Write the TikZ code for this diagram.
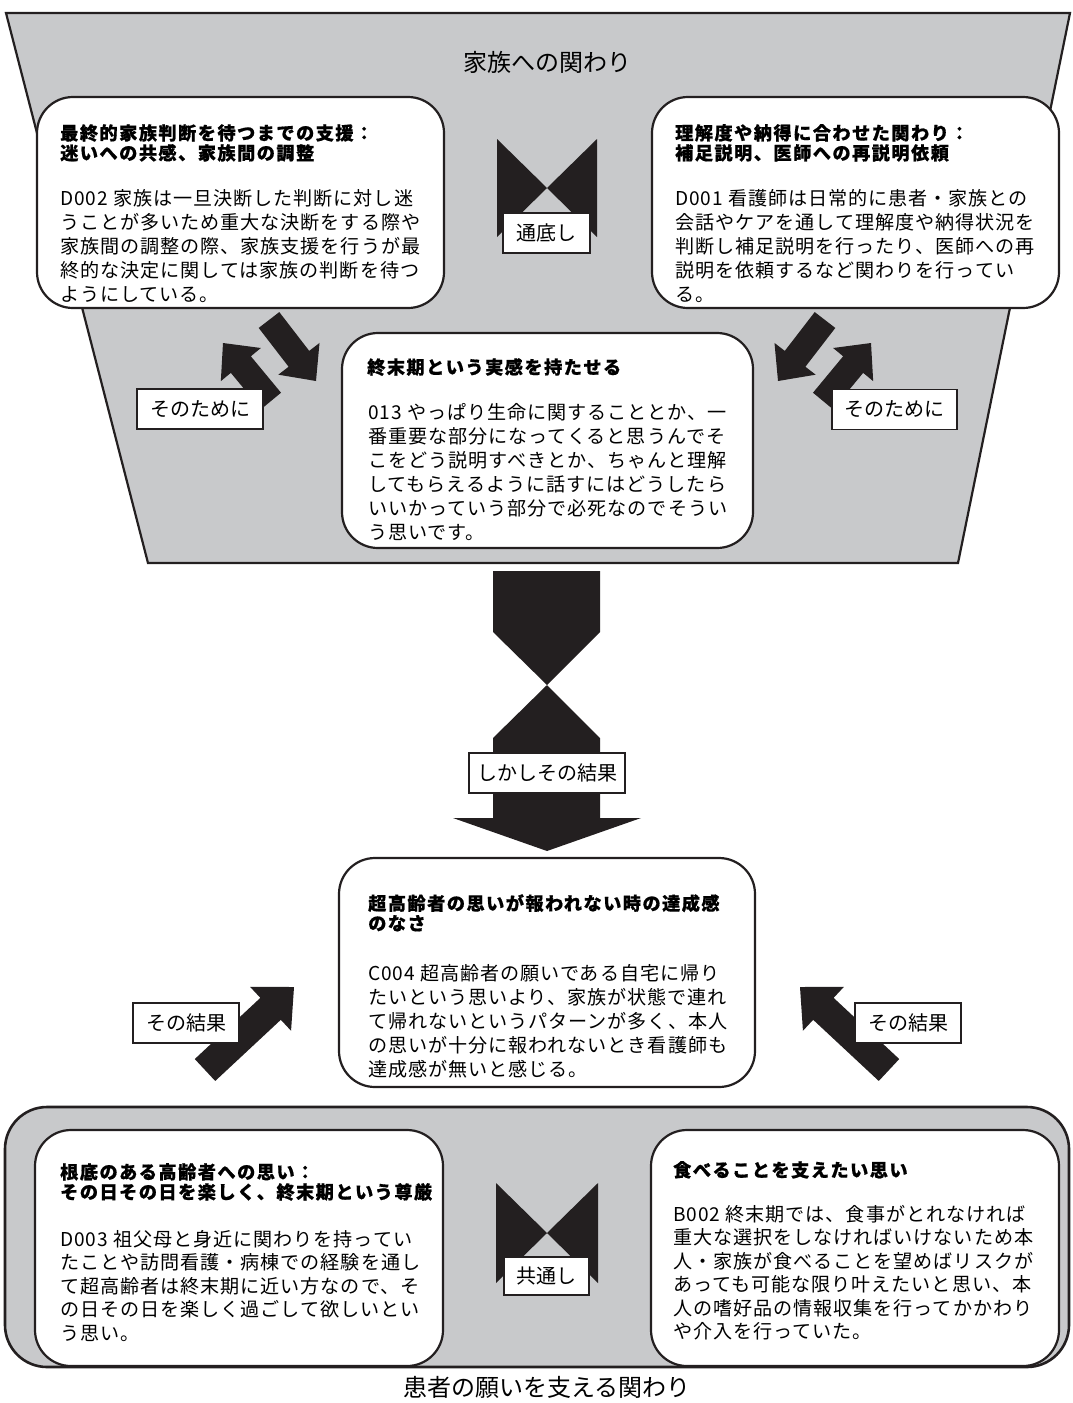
\documentclass[tikz,border=0pt]{standalone}
\usepackage{fontspec}
\setmainfont{Noto Sans CJK JP}
\newfontfamily\ttlfont{Noto Sans CJK JP}[LetterSpace=8, BoldFeatures={FakeBold=0.6}]
\newfontfamily\bdyfont{Noto Sans CJK JP}[LetterSpace=5]
\usetikzlibrary{calc}
\definecolor{fgray}{HTML}{C8C9CB}
\definecolor{ink}{HTML}{231F20}
% block arrow: #1 name, #2 tail, #3 tip, #4 shaft half width, #5 head half width, #6 head length
\newcommand{\blkarrow}[6]{%
  \coordinate (#1-h) at ($(#3)!#6!(#2)$);
  \fill[blk] ($(#2)!#4!90:(#3)$) -- ($(#1-h)!#4!-90:(#2)$) -- ($(#1-h)!#5!-90:(#2)$) -- (#3)
    -- ($(#1-h)!#5!90:(#2)$) -- ($(#1-h)!#4!90:(#2)$) -- ($(#2)!#4!-90:(#3)$) -- cycle;
}
\begin{document}
\begin{tikzpicture}[x=1pt,y=-1pt,
  blk/.style={fill=ink},
  funnel/.style={draw=ink, line width=2.2pt, fill=fgray, line join=miter},
  wbox/.style={draw=ink, line width=2.2pt, fill=white, rounded corners=36pt, inner sep=0pt},
  gbox/.style={draw=ink, line width=2.6pt, fill=fgray, rounded corners=42pt, inner sep=0pt},
  lbl/.style={draw=ink, line width=1.4pt, fill=white, minimum height=40pt, inner sep=0pt, font=\fontsize{20}{20}\selectfont},
  ttl/.style={anchor=north west, align=left, inner sep=0pt, font=\ttlfont\fontsize{18.2}{20}\selectfont\bfseries},
  bdy/.style={anchor=north west, align=left, inner sep=0pt, font=\bdyfont\fontsize{19.1}{24}\selectfont},
  bdyb/.style={bdy, font=\bdyfont\fontsize{19.1}{23.5}\selectfont},
  head/.style={font=\fontsize{24}{24}\selectfont, inner sep=0pt}]
\useasboundingbox (0,0) rectangle (1072,1403);

% ---------- top funnel ----------
\coordinate (f1) at (6,13);
\coordinate (f2) at (1070,13);
\coordinate (f3) at (958,563);
\coordinate (f4) at (148,563);
\draw[funnel] (f1) -- (f2) -- (f3) -- (f4) -- cycle;
\node[head] (t1) at (547,62) {家族への関わり};

% top boxes
\node[wbox, minimum width=407pt, minimum height=211pt] (bA) at (240.5,202.5) {};
\node[ttl] (bAt) at (60,124) {最終的家族判断を待つまでの支援：\\迷いへの共感、家族間の調整};
\node[bdy] (bAb) at (60,189) {D002 家族は一旦決断した判断に対し迷\\うことが多いため重大な決断をする際や\\家族間の調整の際、家族支援を行うが最\\終的な決定に関しては家族の判断を待つ\\ようにしている。};

\node[wbox, minimum width=407pt, minimum height=211pt] (bB) at (855.5,202.5) {};
\node[ttl] (bBt) at (675,124) {理解度や納得に合わせた関わり：\\補足説明、医師への再説明依頼};
\node[bdy] (bBb) at (675,189) {D001 看護師は日常的に患者・家族との\\会話やケアを通して理解度や納得状況を\\判断し補足説明を行ったり、医師への再\\説明を依頼するなど関わりを行ってい\\る。};

% top bow tie
\coordinate (bw1) at (547,188);
\fill[blk] (497,139) -- (bw1) -- (497,237) -- cycle;
\fill[blk] (597,139) -- (bw1) -- (597,237) -- cycle;
\node[lbl, minimum width=87pt] (l1) at (546.5,233) {通底し};

% small arrows (top)
\coordinate (a1t) at (269,320); \coordinate (a1h) at (316,381);
\coordinate (a2t) at (271,401); \coordinate (a2h) at (223,343);
\coordinate (a3t) at (825,320); \coordinate (a3h) at (778,381);
\coordinate (a4t) at (823,401); \coordinate (a4h) at (871,343);
\blkarrow{a1}{a1t}{a1h}{13pt}{26pt}{28pt}
\blkarrow{a2}{a2t}{a2h}{13pt}{26pt}{28pt}
\blkarrow{a3}{a3t}{a3h}{13pt}{26pt}{28pt}
\blkarrow{a4}{a4t}{a4h}{13pt}{26pt}{28pt}
\node[lbl, minimum width=126pt] (l2) at (200,409) {そのために};
\node[lbl, minimum width=125pt] (l3) at (894.5,409.5) {そのために};

% center box
\node[wbox, minimum width=411pt, minimum height=215pt] (bC) at (547.5,440.5) {};
\node[ttl] (bCt) at (367,358) {終末期という実感を持たせる};
\node[bdy] (bCb) at (368,403) {013 やっぱり生命に関することとか、一\\番重要な部分になってくると思うんでそ\\こをどう説明すべきとか、ちゃんと理解\\してもらえるように話すにはどうしたら\\いいかっていう部分で必死なのでそうい\\う思いです。};

% ---------- big arrow ----------
\coordinate (m1) at (547,685);
\fill[blk] (493,571) -- (600,571) -- (600,632) -- (m1) -- (493,632) -- cycle;
\fill[blk] (m1) -- (600,738) -- (600,818) -- (641,818) -- (547,851) -- (453,818) -- (493,818) -- (493,738) -- cycle;
\node[lbl, minimum width=156pt] (l4) at (547,773) {しかしその結果};

% C004 box
\node[wbox, minimum width=416pt, minimum height=229pt] (bD) at (547,972.5) {};
\node[ttl] (bDt) at (368,894) {超高齢者の思いが報われない時の達成感\\のなさ};
\node[bdy] (bDb) at (368,964) {C004 超高齢者の願いである自宅に帰り\\たいという思いより、家族が状態で連れ\\て帰れないというパターンが多く、本人\\の思いが十分に報われないとき看護師も\\達成感が無いと感じる。};

% bottom arrows
\coordinate (a5t) at (205,1070); \coordinate (a5h) at (294,987);
\coordinate (a6t) at (889,1070); \coordinate (a6h) at (800,987);
\blkarrow{a5}{a5t}{a5h}{15pt}{30pt}{32pt}
\blkarrow{a6}{a6t}{a6h}{15pt}{30pt}{32pt}
\node[lbl, minimum width=106pt] (l5) at (186,1023) {その結果};
\node[lbl, minimum width=106pt] (l6) at (908,1023) {その結果};

% ---------- bottom band ----------
\node[gbox, minimum width=1064pt, minimum height=260pt] (gB) at (537,1237) {};

\node[wbox, minimum width=408pt, minimum height=236pt] (bE) at (239,1248) {};
\node[ttl] (bEt) at (60,1163) {根底のある高齢者への思い：\\その日その日を楽しく、終末期という尊厳};
\node[bdyb] (bEb) at (60,1230) {D003 祖父母と身近に関わりを持ってい\\たことや訪問看護・病棟での経験を通し\\て超高齢者は終末期に近い方なので、そ\\の日その日を楽しく過ごして欲しいとい\\う思い。};

\node[wbox, minimum width=408pt, minimum height=236pt] (bF) at (855,1248) {};
\node[ttl] (bFt) at (673,1161) {食べることを支えたい思い};
\node[bdyb] (bFb) at (673,1205) {B002 終末期では、食事がとれなければ\\重大な選択をしなければいけないため本\\人・家族が食べることを望めばリスクが\\あっても可能な限り叶えたいと思い、本\\人の嗜好品の情報収集を行ってかかわり\\や介入を行っていた。};

% bottom bow tie
\coordinate (bw2) at (547,1233);
\fill[blk] (496,1183) -- (bw2) -- (496,1283) -- cycle;
\fill[blk] (598,1183) -- (bw2) -- (598,1283) -- cycle;
\node[lbl, minimum width=85pt, minimum height=38pt] (l7) at (546.5,1276) {共通し};

\node[head] (t2) at (547,1387) {患者の願いを支える関わり};
\end{tikzpicture}
\end{document}
